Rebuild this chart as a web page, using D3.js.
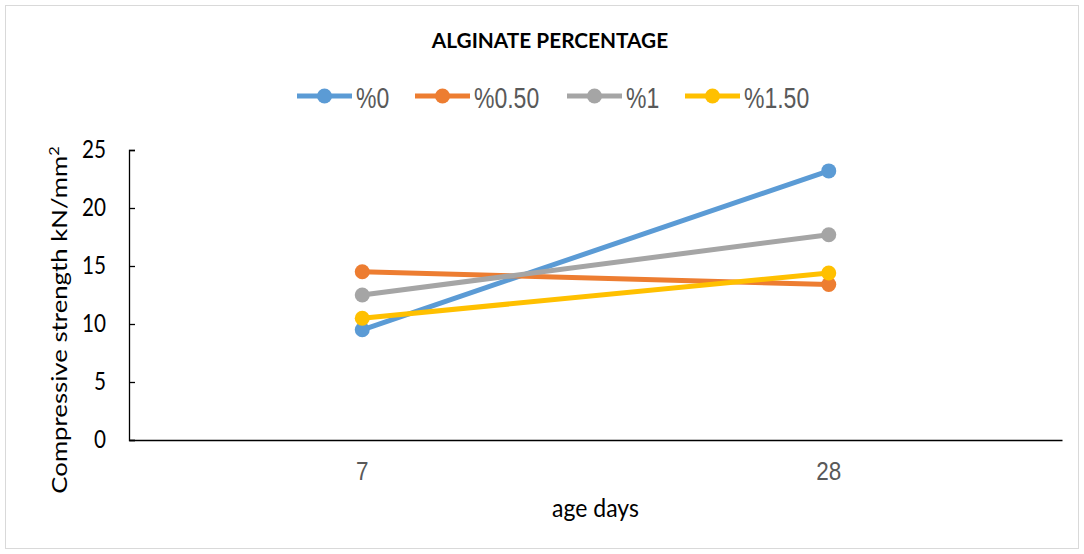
<!DOCTYPE html>
<meta charset="utf-8" />
<style>
  body { margin: 0; background: #fff; }
  .line { fill: none; stroke-width: 5px; }
</style>
<body>
  <div id="chart"></div>
  <script src="https://d3js.org/d3.v7.min.js"></script>
  <script>
    // data
    var days = ["7", "28"];
    var seriesNames = ["%0", "%0.50", "%1", "%1.50"];
    var s0 = [9.5, 23.2];
    var s050 = [14.5, 13.4];
    var s1 = [12.5, 17.7];
    var s150 = [10.5, 14.4];
    var yTicks = [0, 5, 10, 15, 20, 25];
    var colors = ["#5B9BD5", "#ED7D31", "#A5A5A5", "#FFC000"];

    var series = [s0, s050, s1, s150].map(function (v, i) {
      return { name: seriesNames[i], color: colors[i], values: v };
    });

    var W = 1084, H = 554;
    var margin = { top: 150, right: 22, bottom: 114, left: 129 },
      width = W - margin.left - margin.right,
      height = H - margin.top - margin.bottom;

    // the source picture is a bit stretched vertically
    var stretch = 1.2;

    var svg = d3.select("#chart").append("svg")
      .attr("width", W).attr("height", H);

    // outer chart border
    svg.append("rect")
      .attr("x", 5.5).attr("y", 5.5)
      .attr("width", W - 11).attr("height", H - 11)
      .attr("fill", "#fff").attr("stroke", "#d9d9d9").attr("stroke-width", 1);

    var x = d3.scaleBand().domain(days).range([0, width]);
    var y = d3.scaleLinear().domain([0, 25]).range([height, 0]);

    var g = svg.append("g")
      .attr("transform", "translate(" + margin.left + "," + margin.top + ")");

    // y axis, ticks pointing inward
    var yAxis = g.append("g")
      .call(d3.axisLeft(y).tickValues(yTicks).tickSize(-6));
    yAxis.select(".domain").attr("stroke", "#000").attr("stroke-width", 1.3);
    yAxis.selectAll(".tick line").attr("stroke", "#000").attr("stroke-width", 1.3);
    yAxis.selectAll("text")
      .attr("x", null).attr("dy", null)
      .attr("transform", "translate(-23,7.5) scale(1," + stretch + ")")
      .attr("fill", "#000")
      .style("font-family", "Lato, sans-serif")
      .style("font-size", "20.7px");

    // x axis
    var xAxis = g.append("g")
      .attr("transform", "translate(0," + height + ")")
      .call(d3.axisBottom(x).tickSize(0));
    xAxis.select(".domain").attr("stroke", "#000").attr("stroke-width", 1.3);
    xAxis.selectAll("text")
      .attr("y", null).attr("dy", null)
      .attr("transform", "translate(0,40) scale(1,1.14)")
      .attr("fill", "#595959")
      .style("font-family", "'Liberation Sans', Arial, sans-serif")
      .style("font-size", "22.5px");

    var line = d3.line()
      .x(function (d, i) { return x(days[i]) + x.bandwidth() / 2; })
      .y(function (d) { return y(d); });

    series.forEach(function (s) {
      g.append("path")
        .datum(s.values)
        .attr("class", "line")
        .attr("stroke", s.color)
        .attr("d", line);
      g.selectAll(null)
        .data(s.values)
        .enter().append("circle")
        .attr("cx", function (d, i) { return x(days[i]) + x.bandwidth() / 2; })
        .attr("cy", function (d) { return y(d); })
        .attr("r", 7.5)
        .attr("fill", s.color);
    });

    // title
    svg.append("text")
      .attr("x", 550).attr("y", 48)
      .attr("text-anchor", "middle")
      .style("font-family", "Lato, sans-serif")
      .style("font-weight", "bold")
      .style("font-size", "20.8px")
      .text("ALGINATE PERCENTAGE");

    // legend
    var legX = [297, 415, 567, 685];
    var leg = svg.selectAll(".leg").data(series).enter().append("g")
      .attr("class", "leg")
      .attr("transform", function (d, i) { return "translate(" + legX[i] + ",96)"; });
    leg.append("line")
      .attr("x1", 0).attr("x2", 55).attr("y1", 0).attr("y2", 0)
      .attr("stroke", function (d) { return d.color; })
      .attr("stroke-width", 5);
    leg.append("circle")
      .attr("cx", 27.5).attr("cy", 0).attr("r", 7.5)
      .attr("fill", function (d) { return d.color; });
    leg.append("text")
      .attr("transform", "translate(59,12) scale(1,1.25)")
      .attr("fill", "#595959")
      .style("font-family", "'Liberation Sans', Arial, sans-serif")
      .style("font-size", "23px")
      .text(function (d) { return d.name; });

    // axis titles
    svg.append("text")
      .attr("transform", "translate(" + (margin.left + width / 2) + ",517) scale(1,1.1)")
      .attr("text-anchor", "middle")
      .style("font-family", "Lato, sans-serif")
      .style("font-size", "23px")
      .text("age days");

    svg.append("text")
      .attr("transform", "translate(67," + (margin.top + height / 2 + 25) + ") rotate(-90) scale(1.17,1)")
      .attr("text-anchor", "middle")
      .style("font-family", "Lato, sans-serif")
      .style("font-size", "22px")
      .html("Compressive strength kN/mm<tspan baseline-shift='super' font-size='14px'>2</tspan>");
  </script>
</body>
